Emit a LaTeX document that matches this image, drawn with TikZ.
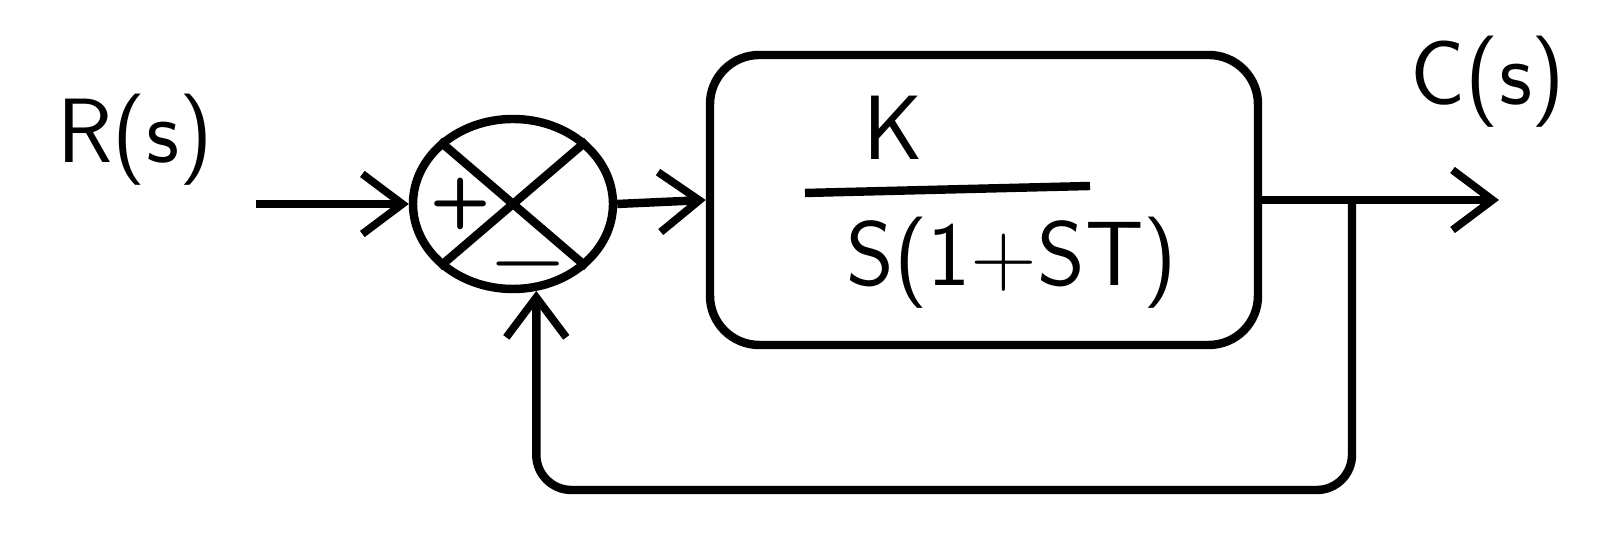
\documentclass[tikz,border=0pt]{standalone}
\usepackage{tikz}
\usetikzlibrary{shapes.geometric, arrows.meta, positioning, calc}

\begin{document}
\begin{tikzpicture}[
  sumj/.style={ellipse, draw, line width=2.4pt, minimum width=2.0cm, minimum height=1.7cm, inner sep=0pt},
  blk/.style={rectangle, draw, line width=2.4pt, rounded corners=14pt,
              minimum width=5.48cm, minimum height=2.9cm},
  arr/.style={-{Straight Barb[length=4mm, width=6mm, line width=2.2pt]}, line width=2.4pt},
  wire/.style={line width=2.4pt},
  lbl/.style={font=\sffamily\fontsize{26}{30}\selectfont},
  sgn/.style={font=\sffamily\bfseries\fontsize{20}{22}\selectfont, inner sep=0pt},
]
  \useasboundingbox (0,0) rectangle (16.04,5.38);

  % Summing junction
  \node[sumj] (sum) at (5.13,3.34) {};
  \draw[wire] (sum.north west) -- (sum.south east);
  \draw[wire] (sum.north east) -- (sum.south west);
  \node[sgn] (plus) at ($(sum.center)+(-0.52,0)$) {+};
  \node[sgn, scale=1.4] (minus) at ($(sum.center)+(0.15,-0.6)$) {$-$};

  % Input
  \node[lbl] (rin) at (1.35,3.98) {R(s)};
  \coordinate (in) at (2.56,3.34);
  \draw[arr] (in) -- (sum.west);

  % Plant block
  \node[blk] (plant) at (9.84,3.38) {};
  \node[lbl] (num) at (8.93,4.1) {K};
  \node[lbl] (den) at (10.12,2.75) {S(1+ST)};
  \coordinate (barl) at (8.05,3.45);
  \coordinate (barr) at (10.9,3.52);
  \draw[wire] (barl) -- (barr);
  \draw[arr] (sum.east) -- (plant.west);

  % Output
  \node[lbl] (cout) at (14.88,4.56) {C(s)};
  \coordinate (out) at (14.99,3.38);
  \coordinate (br) at (13.52,3.38);
  \draw[arr] (plant.east) -- (out);

  % Feedback
  \coordinate (fb) at (13.52,0.48);
  \draw[arr, rounded corners=10pt] (br) -- (fb) -| (sum.-75);
\end{tikzpicture}
\end{document}
